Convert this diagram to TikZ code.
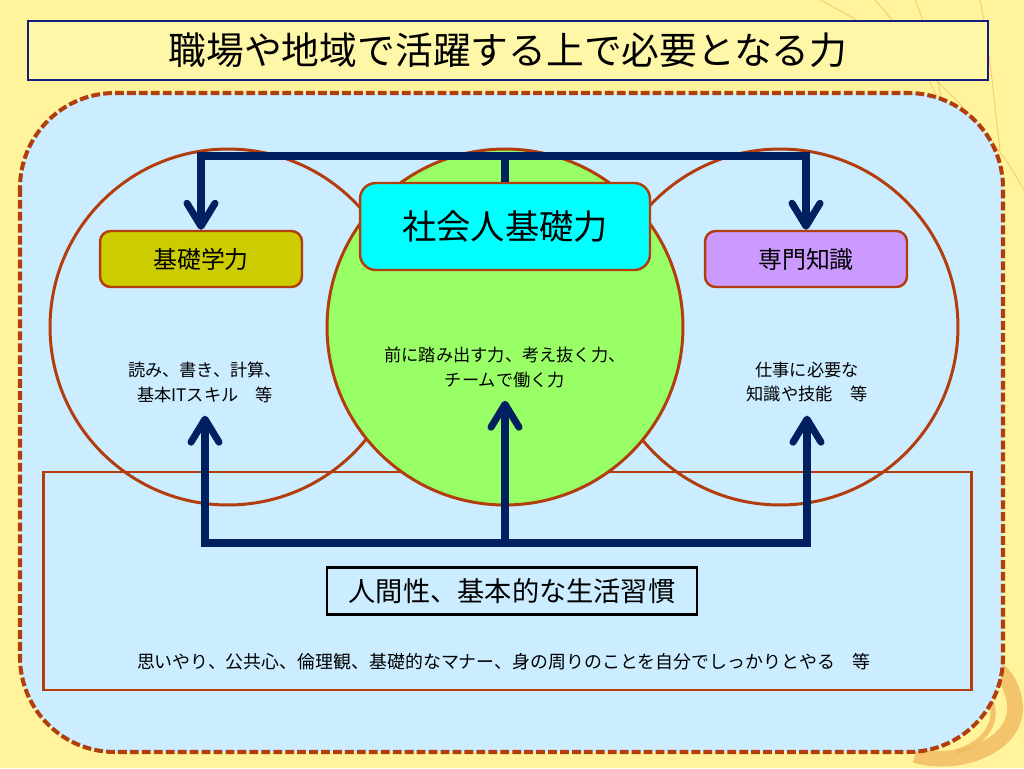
\documentclass[tikz,border=0pt]{standalone}
\usepackage{fontspec}
\setmainfont{Noto Sans CJK JP}
\usetikzlibrary{arrows.meta, positioning}
\definecolor{PaperYellow}{RGB}{255, 244, 155}
\definecolor{TitleYellow}{RGB}{255, 247, 168}
\definecolor{TitleBlue}{RGB}{20, 30, 130}
\definecolor{PanelBlue}{RGB}{204, 236, 255}
\definecolor{RimBrown}{RGB}{178, 62, 14}
\definecolor{SoftGreen}{RGB}{153, 255, 102}
\definecolor{BoxCyan}{RGB}{0, 255, 255}
\definecolor{BoxOlive}{RGB}{204, 204, 0}
\definecolor{BoxViolet}{RGB}{204, 153, 255}
\definecolor{DeepNavy}{RGB}{0, 32, 96}
\definecolor{SwirlOrange}{RGB}{240, 185, 95}
\tikzset{
  ring/.style={circle, minimum size=7.12cm, draw=RimBrown, line width=1.7pt},
  skill/.style={rectangle, rounded corners=6pt, minimum width=4.04cm,
    minimum height=1.12cm, draw=RimBrown, line width=1.4pt,
    font=\fontsize{13.6pt}{16pt}\selectfont, text=black},
  note/.style={align=center, font=\fontsize{9.8pt}{14.2pt}\selectfont, text=black},
  flow/.style={draw=DeepNavy, line width=4pt},
  flowarr/.style={flow, -{Straight Barb[length=4.6mm, width=5.6mm, round]}},
  deco/.style={draw=SwirlOrange, line width=0.6pt, opacity=0.6},
}
\begin{document}
\begin{tikzpicture}[x=0.02cm, y=-0.02cm]
  \useasboundingbox (0,0) rectangle (1024,768);
  \fill[PaperYellow] (0,0) rectangle (1024,768);
  % decoration on the paper
  \draw[deco] (820,0) .. controls (900,40) and (980,110) .. (1024,190);
  \draw[deco] (875,0) .. controls (930,60) and (960,140) .. (985,260);
  \draw[deco] (915,0) .. controls (940,60) and (945,120) .. (950,200);
  \draw[deco] (980,0) .. controls (990,50) and (995,110) .. (1000,150);
  \draw[SwirlOrange, line width=9pt, opacity=0.8]
    (915,755) .. controls (960,768) and (1018,745) .. (1015,705)
    .. controls (1012,680) and (1000,672) .. (995,668);
  \draw[SwirlOrange, line width=3pt, opacity=0.8]
    (990,700) .. controls (1000,720) and (985,745) .. (955,752);
  % title
  \node[draw=TitleBlue, line width=1.1pt, fill=TitleYellow,
        minimum width=19.22cm, minimum height=1.18cm,
        font=\fontsize{21.5pt}{26pt}\selectfont] (title) at (508,50.5)
    {職場や地域で活躍する上で必要となる力};
  % panel
  \draw[fill=PanelBlue, draw=RimBrown, line width=2.3pt,
        dash pattern=on 5pt off 1.8pt, rounded corners=1.9cm]
    (20,93) rectangle (1003,752);
  \node[draw=RimBrown, line width=1.6pt, minimum width=18.56cm,
        minimum height=4.36cm] (base) at (507.5,581) {};
  \node[ring] (ringL) at (228,327) {};
  \node[ring] (ringR) at (780,327) {};
  \node[ring, fill=SoftGreen] (ringC) at (505,327) {};
  % skill boxes
  \node[skill, fill=BoxOlive] (basic) at (201,259) {基礎学力};
  \node[skill, fill=BoxViolet] (spec) at (806,259) {専門知識};
  \node[skill, fill=BoxCyan, minimum width=5.8cm, minimum height=1.74cm,
        rounded corners=9pt, font=\fontsize{19.5pt}{24pt}\selectfont]
    (social) at (505,226.5) {社会人基礎力};
  \node[draw=black, line width=1.2pt, minimum width=7.4cm,
        minimum height=0.94cm, font=\fontsize{15.5pt}{18pt}\selectfont]
    (human) at (512,591) {人間性、基本的な生活習慣};
  % texts
  \node[note] (noteL) at (205,382) {読み、書き、計算、\\基本ITスキル\quad 等};
  \node[note] (noteC) at (505,367) {前に踏み出す力、考え抜く力、\\チームで働く力};
  \node[note] (noteR) at (807,382) {仕事に必要な\\知識や技能\quad 等};
  \node[note, font=\fontsize{10.2pt}{14pt}\selectfont] (habit) at (504,662)
    {思いやり、公共心、倫理観、基礎的なマナー、身の周りのことを自分でしっかりとやる\quad 等};
  % arrows
  \coordinate (hubT) at (505,156);
  \coordinate (hubB) at (505,543);
  \draw[flow] (social.north) -- (hubT);
  \draw[flowarr] (hubT) -| (basic.north);
  \draw[flowarr] (hubT) -| (spec.north);
  \draw[flowarr, shorten >=4pt] (hubB) -- (noteC.south);
  \draw[flowarr, shorten >=4pt] (hubB) -| (noteL.south);
  \draw[flowarr, shorten >=4pt] (hubB) -| (noteR.south);
\end{tikzpicture}
\end{document}
